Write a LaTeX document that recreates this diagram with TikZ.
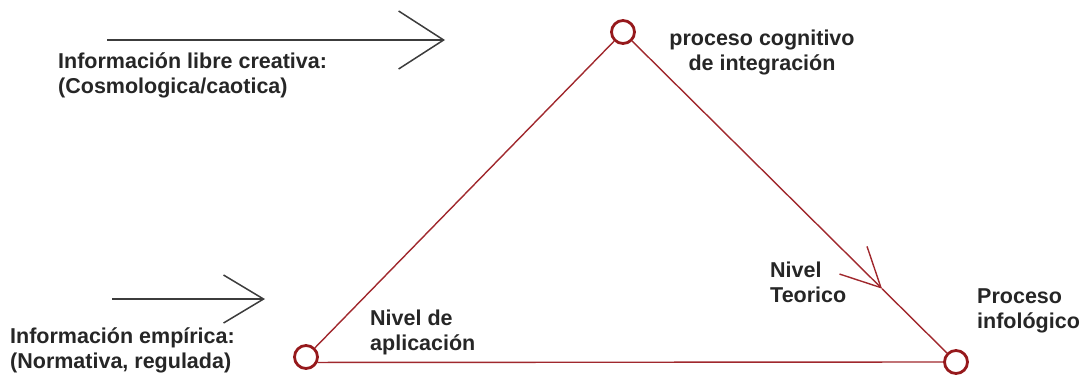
\documentclass[tikz,border=0pt]{standalone}
\usepackage{fontspec}
\setsansfont{Liberation Sans}
\usetikzlibrary{arrows.meta,calc}
\definecolor{linered}{RGB}{160,40,45}
\definecolor{dotred}{RGB}{150,25,28}
\definecolor{inkgray}{RGB}{60,60,60}
\begin{document}
\begin{tikzpicture}[x=1pt, y=1pt,
	dot/.style  = {circle, draw=dotred, line width=2.8pt, minimum size=23pt, inner sep=0pt},
	lbl/.style  = {anchor=west, align=left, inner sep=0pt, text=black!85,
	               font=\sffamily\bfseries\fontsize{21.5}{25}\selectfont},
	redline/.style = {draw=linered, line width=1.4pt},
	inarrow/.style = {draw=inkgray, line width=1.5pt}]
	
	\useasboundingbox (0,0) rectangle (1083,376);
	
	% the three corners of the triangle
	\node[dot] (n1) at (623,344) {};
	\node[dot] (n2) at (306,19) {};
	\node[dot] (n3) at (956,14) {};
	
	% labels round the triangle
	\node[lbl, align=center, anchor=center] (t1) at (762,323.5) {proceso cognitivo\\ de integración};
	\node[lbl] (t2) at (370,44) {Nivel de\\aplicación};
	\node[lbl] (t3) at (770,93.5) {Nivel\\Teorico};
	\node[lbl] (t4) at (977,65.5) {Proceso\\infológico};
	
	% incoming information
	\node[lbl] (i1) at (58,300.5) {Información libre creativa:\\(Cosmologica/caotica)};
	\node[lbl] (i2) at (10,26) {Información empírica:\\(Normativa, regulada)};
	\coordinate (a1s) at (107,336);
	\coordinate (a1e) at (445,336);
	\coordinate (a2s) at (112,77);
	\coordinate (a2e) at (265,77);
	\draw[inarrow, -{Straight Barb[length=45pt, width=58pt]}] (a1s) -- (a1e);
	\draw[inarrow, -{Straight Barb[length=40pt, width=48pt]}] (a2s) -- (a2e);
	
	% sides of the triangle
	\coordinate (mid) at ($(n1)!0.778!(n3)$);
	\draw[redline] (n1) -- (n2);
	\draw[redline, -{Straight Barb[length=39pt, width=39pt, line width=1.4pt]}] (n1) -- (mid);
	\draw[redline] (mid) -- (n3);
	\draw[redline] (n2.-25) -- (n3.west);
\end{tikzpicture}
\end{document}
